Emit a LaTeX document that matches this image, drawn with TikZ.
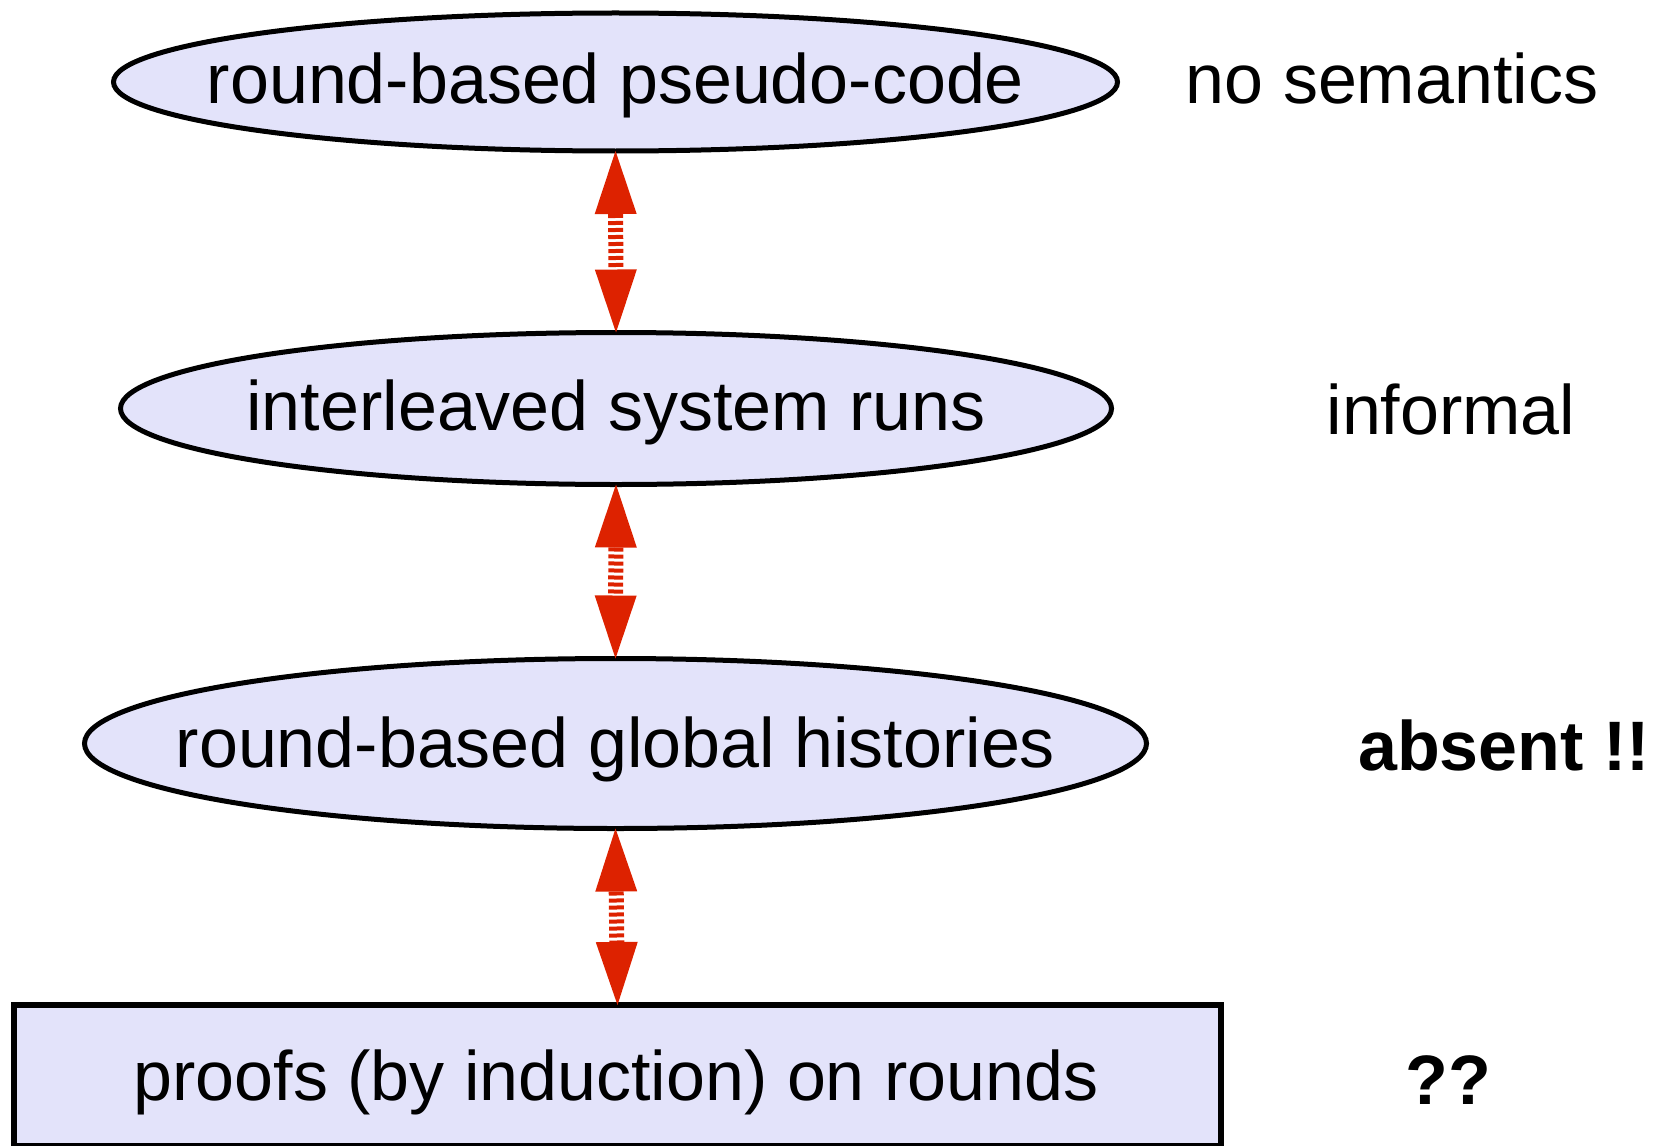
\documentclass[tikz,border=0pt]{standalone}
\usepackage{fontspec}
\setmainfont{Liberation Sans}
\usetikzlibrary{shapes.geometric,arrows.meta}
\definecolor{nodefill}{RGB}{227,227,250}
\definecolor{linkred}{RGB}{221,34,0}
\tikzset{
  bigtext/.style={font=\fontsize{35}{42}\selectfont},
  level/.style={ellipse, draw=black, fill=nodefill, line width=2.5pt,
    inner sep=0pt, outer sep=0pt},
  proofbox/.style={rectangle, draw=black, fill=nodefill, line width=3pt,
    inner sep=0pt, outer sep=0pt},
  remark/.style={anchor=base, inner sep=0pt, bigtext},
  link/.style={linkred, line width=7.5pt, dash pattern=on 2pt off 1.5pt,
    {Triangle[length=31.5pt,width=21pt,line width=0pt]}-{Triangle[length=31.5pt,width=21pt,line width=0pt]}}
}
\begin{document}
\begin{tikzpicture}[x=0.5pt,y=-0.5pt]
\useasboundingbox (0,0) rectangle (1653,1145);
% the three levels, each an ellipse with its caption in the middle
\node[level, minimum width=502pt, minimum height=69pt,
  label={[bigtext, yshift=-1.5pt]center:round-based pseudo-code}] (code) at (615.5,82) {};
\node[level, minimum width=495.5pt, minimum height=76pt,
  label={[bigtext, yshift=-1.75pt]center:interleaved system runs}] (runs) at (616,408.5) {};
\node[level, minimum width=531pt, minimum height=85pt,
  label={[bigtext, yshift=-2.75pt]center:round-based global histories}] (hist) at (615.5,743.5) {};
% the proofs box runs off the bottom edge
\node[proofbox, minimum width=603.5pt, minimum height=70.5pt,
  label={[bigtext, yshift=-3.25pt, xshift=-0.75pt]center:proofs (by induction) on rounds}] (proofs) at (617.5,1075.5) {};

% remarks on the right
\node[remark] (r1) at (1392,104) {no semantics};
\node[remark] (r2) at (1451,434) {informal};
\node[remark, font=\fontsize{35}{42}\selectfont\bfseries] (r3) at (1504,770) {absent !!};
\node[remark, font=\fontsize{35}{42}\selectfont\bfseries] (r4) at (1448,1104) {??};

% two-way links between the levels
\draw[link] (code.south) -- (runs.north);
\draw[link] (runs.south) -- (hist.north);
\draw[link] (hist.south) -- (proofs.north);
\end{tikzpicture}
\end{document}
